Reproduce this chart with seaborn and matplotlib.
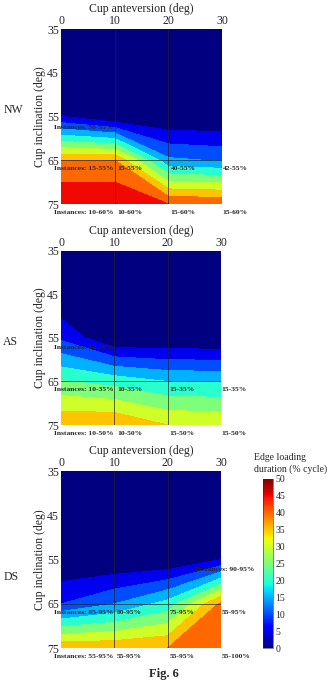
import numpy as np
import seaborn as sns
import matplotlib.pyplot as plt
from matplotlib.colors import Normalize
from matplotlib.cm import ScalarMappable

# grid of the simulations
anteversion = [0, 10, 20, 30]
inclination = [35, 45, 55, 65, 75]

# edge loading duration (% cycle), one row per inclination
nw_vals = [[0, 0, 0, 0],
           [0, 0, 0, 0],
           [5.2, 0, 0, 0],
           [40, 40, 16, 14.5],
           [50, 50, 45, 44.5]]
as_vals = [[0, 0, 0, 0],
           [0, 0, 0, 0],
           [9, 0, 0, 0],
           [25.5, 23, 20, 19.5],
           [39.5, 39.8, 35, 34.5]]
ds_vals = [[0, 0, 0, 0],
           [0, 0, 0, 0],
           [0, 0, 0, 5.1],
           [10, 15, 22, 41],
           [39, 39, 40, 44]]

panel_names = ['NW', 'AS', 'DS']

# instance labels: (text, x, y)
nw_labels = [('Instances: 50-55%', -1.4, 57.5),
             ('Instances: 15-55%', -1.4, 66.9), ('15-55%', 10.4, 66.9),
             ('40-55%', 20.4, 66.9), ('42-55%', 30.1, 66.9),
             ('Instances: 10-60%', -1.4, 76.9), ('10-60%', 10.4, 76.9),
             ('15-60%', 20.4, 76.9), ('15-60%', 30.1, 76.9)]
as_labels = [('Instances: 10-20%', -1.4, 57.2),
             ('Instances: 10-35%', -1.4, 66.9), ('10-35%', 10.5, 66.9),
             ('15-35%', 20.3, 66.9), ('15-35%', 30.1, 66.9),
             ('Instances: 10-50%', -1.4, 76.9), ('10-50%', 10.5, 76.9),
             ('15-50%', 20.3, 76.9), ('15-50%', 30.1, 76.9)]
ds_labels = [('Instances: 90-95%', 25.1, 57.3),
             ('Instances: 85-95%', -1.4, 66.9), ('80-95%', 10.5, 66.9),
             ('75-95%', 20.3, 66.9), ('55-95%', 30.1, 66.9),
             ('Instances: 55-95%', -1.4, 76.9), ('55-95%', 10.5, 76.9),
             ('55-95%', 20.3, 76.9), ('55-100%', 30.1, 76.9)]

levels = np.arange(0, 55, 5)

sns.set_style('white')
plt.rcParams['font.family'] = ['Liberation Serif', 'DejaVu Serif']

cmap = plt.get_cmap('jet')
band_colors = [cmap(l / 50) for l in levels[:-1]]

fig = plt.figure(figsize=(3.34, 6.8), dpi=100)
# axes positions in figure fractions
rects = [[0.183, 0.700, 0.482, 0.257],
         [0.183, 0.375, 0.479, 0.256],
         [0.183, 0.047, 0.479, 0.260]]
name_y = [1 - 110 / 680, 1 - 342 / 680, 1 - 577 / 680]

X, Y = np.meshgrid(anteversion, inclination)
all_vals = [nw_vals, as_vals, ds_vals]
all_labels = [nw_labels, as_labels, ds_labels]

for rect, vals, labs, name, ny in zip(rects, all_vals, all_labels, panel_names, name_y):
    ax = fig.add_axes(rect)
    ax.contourf(X, Y, np.array(vals), levels=levels, colors=band_colors)
    ax.set_xlim(0, 30)
    ax.set_ylim(75, 35)
    ax.set_xticks(anteversion)
    ax.set_yticks(inclination)
    ax.xaxis.tick_top()
    ax.xaxis.set_label_position('top')
    ax.set_xlabel('Cup anteversion (deg)', fontsize=8.5, labelpad=2)
    ax.set_ylabel('Cup inclination (deg)', fontsize=8.5, labelpad=1)
    ax.tick_params(labelsize=8.5, length=0, pad=1.5)
    # thin grid lines where they show in the original
    for gx in [10, 20]:
        ax.axvline(gx, color='#222222', lw=0.6, alpha=0.8)
    ax.axhline(65, color='#222222', lw=0.6, alpha=0.8)
    for s in ax.spines.values():
        s.set_visible(False)
    for t, x, y in labs:
        ax.text(x, y, t, fontsize=5.4, fontweight='bold', ha='left',
                va='center', clip_on=False)
    fig.text(0.01, ny, name, fontsize=8.5, va='center')

# continuous colorbar
cax = fig.add_axes([0.787, 0.047, 0.030, 0.249])
cb = fig.colorbar(ScalarMappable(norm=Normalize(0, 50), cmap='jet'),
                  cax=cax, ticks=levels)
cb.ax.tick_params(labelsize=7, length=0, pad=2)
cb.outline.set_linewidth(0.4)
fig.text(0.760, 0.303, 'Edge loading\nduration (% cycle)', fontsize=7,
         ha='left', va='bottom', linespacing=1.3)

fig.text(0.49, 0.0, 'Fig. 6', fontsize=9, fontweight='bold',
         ha='center', va='bottom')

fig.savefig('out.png', dpi=100)
